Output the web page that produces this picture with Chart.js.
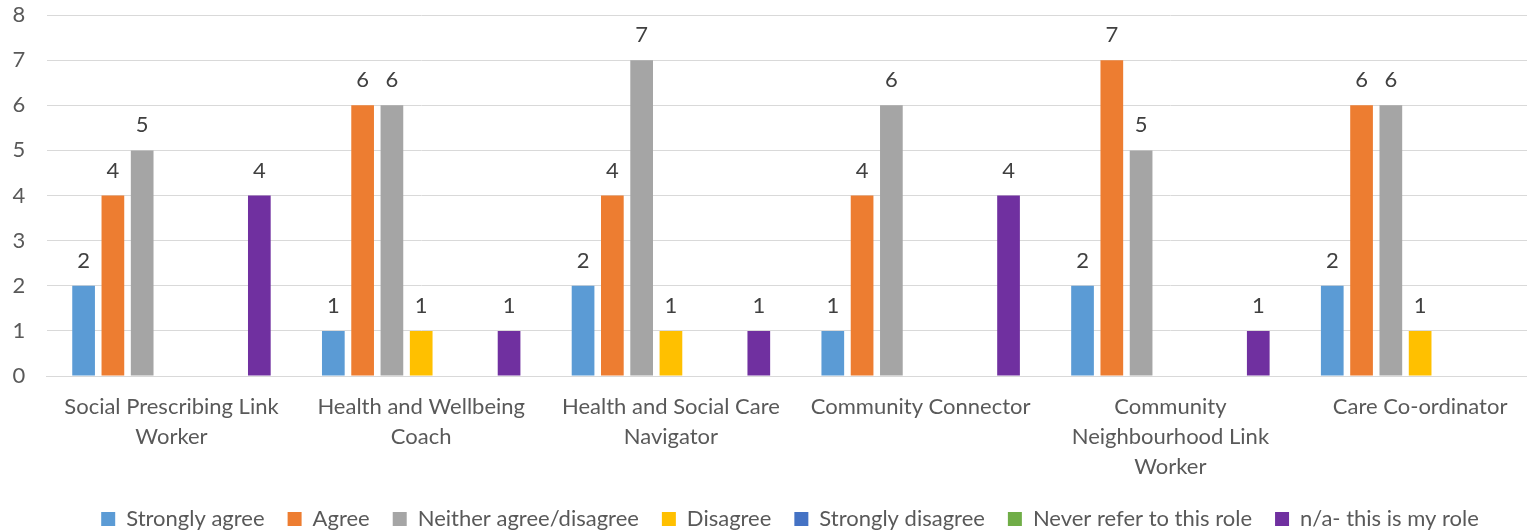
<!DOCTYPE html>
<html lang="en">
<head>
    <meta charset="UTF-8">
    <title>Role responses</title>
    <style>
        html, body {
            margin: 0;
            padding: 0;
            background: #fff;
            overflow: hidden;
        }
        canvas {
            display: block;
        }
    </style>
</head>
<body>
    <canvas id="rolesChart" width="1545" height="540"></canvas>
    <script src="https://cdn.jsdelivr.net/npm/chart.js"></script>
    <script>
        // Categories (roles), wrapped like the original axis
        const roles = [
            ['Social Prescribing Link', 'Worker'],
            ['Health and Wellbeing', 'Coach'],
            ['Health and Social Care', 'Navigator'],
            'Community Connector',
            ['Community', 'Neighbourhood Link', 'Worker'],
            'Care Co-ordinator'
        ];

        // Series values, one per answer
        const stronglyAgree    = [2, 1, 2, 1, 2, 2];
        const agree            = [4, 6, 4, 4, 7, 6];
        const neither          = [5, 6, 7, 6, 5, 6];
        const disagree         = [0, 1, 1, 0, 0, 1];
        const stronglyDisagree = [0, 0, 0, 0, 0, 0];
        const neverRefer       = [0, 0, 0, 0, 0, 0];
        const notApplicable    = [4, 1, 1, 4, 1, 0];

        const seriesNames = ['Strongly agree', 'Agree', 'Neither agree/disagree', 'Disagree',
                             'Strongly disagree', 'Never refer to this role', 'n/a- this is my role'];
        const seriesData = [stronglyAgree, agree, neither, disagree, stronglyDisagree, neverRefer, notApplicable];
        const seriesColors = ['#5B9BD5', '#ED7D31', '#A5A5A5', '#FFC000', '#4472C4', '#70AD47', '#7030A0'];

        const yTicks = [0, 1, 2, 3, 4, 5, 6, 7, 8];

        const FONT = 'Lato, "Open Sans", sans-serif';

        // Value labels above each non-empty bar
        const barLabels = {
            id: 'barLabels',
            afterDatasetsDraw(chart) {
                const ctx = chart.ctx;
                ctx.save();
                ctx.font = '22px ' + FONT;
                ctx.fillStyle = '#404040';
                ctx.textAlign = 'center';
                ctx.textBaseline = 'middle';
                chart.data.datasets.forEach((ds, i) => {
                    chart.getDatasetMeta(i).data.forEach((bar, j) => {
                        const v = ds.data[j];
                        if (!v) return;
                        ctx.fillText(String(v), bar.x, bar.y - 25);
                    });
                });
                ctx.restore();
            }
        };

        const datasets = seriesNames.map((name, i) => ({
            label: name,
            data: seriesData[i],
            backgroundColor: seriesColors[i],
            borderWidth: 0,
            categoryPercentage: 0.821,
            barPercentage: 0.775
        }));

        new Chart(document.getElementById('rolesChart'), {
            type: 'bar',
            data: { labels: roles, datasets: datasets },
            options: {
                responsive: false,
                animation: false,
                layout: {
                    padding: { top: 15, left: 35, right: 0, bottom: 0 }
                },
                scales: {
                    x: {
                        grid: { display: false, drawTicks: false },
                        border: { display: true, color: '#D9D9D9', width: 1 },
                        ticks: {
                            color: '#595959',
                            font: { family: FONT, size: 22, lineHeight: 30 / 22 },
                            padding: 16,
                            maxRotation: 0,
                            autoSkip: false
                        },
                        afterFit(scale) { scale.height = 109; }
                    },
                    y: {
                        min: 0,
                        max: 8,
                        afterBuildTicks(scale) {
                            scale.ticks = yTicks.map(v => ({ value: v }));
                        },
                        grid: { color: '#D9D9D9', lineWidth: 1, drawTicks: false },
                        border: { display: false },
                        ticks: {
                            color: '#595959',
                            font: { family: FONT, size: 22 },
                            mirror: true,
                            padding: -34
                        },
                        afterFit(scale) { scale.width = 11.6; }
                    }
                },
                plugins: {
                    legend: {
                        position: 'bottom',
                        labels: {
                            boxWidth: 14,
                            boxHeight: 14,
                            padding: 23,
                            color: '#595959',
                            font: { family: FONT, size: 22 }
                        }
                    },
                    tooltip: { enabled: false }
                }
            },
            plugins: [barLabels]
        });
    </script>
</body>
</html>
